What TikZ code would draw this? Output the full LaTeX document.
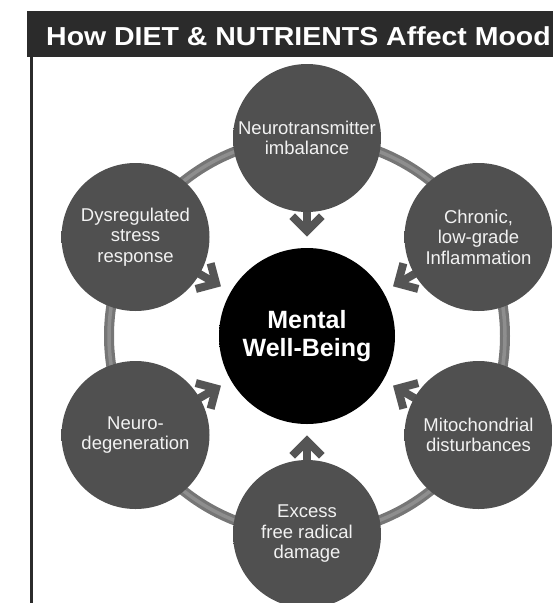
\documentclass[tikz,border=0pt]{standalone}
\usepackage{fontspec}
\usepackage{graphicx}
\setmainfont{Liberation Sans}
\usetikzlibrary{calc,backgrounds}
\definecolor{titlebg}{HTML}{2B2B2B}
\definecolor{og}{HTML}{505050}
\definecolor{ogl}{HTML}{787878}
\definecolor{ogd}{HTML}{3A3A3A}
\definecolor{cgl}{HTML}{6A6A6A}
\definecolor{cgd}{HTML}{2A2A2A}
\definecolor{ringgray}{HTML}{767676}
\definecolor{ringlight}{HTML}{8E8E8E}
\definecolor{arrowgray}{HTML}{555555}
\definecolor{txtwhite}{HTML}{F2F2F2}
\pgfdeclareradialshading{outerball}{\pgfpoint{0bp}{0bp}}{color(0bp)=(og); color(40bp)=(og); color(46.5bp)=(ogl); color(50bp)=(ogd)}
\pgfdeclareradialshading{centerball}{\pgfpoint{0bp}{0bp}}{color(0bp)=(black); color(42bp)=(black); color(47.5bp)=(cgl); color(50bp)=(cgd)}
\begin{document}
\begin{tikzpicture}[x=1pt,y=-1pt,
  outer/.style={circle, minimum size=148pt, inner sep=0pt, shading=outerball, text=txtwhite, font=\fontsize{18.5}{20.5}\selectfont, align=center},
  hub/.style={circle, minimum size=176pt, inner sep=0pt, shading=centerball, text=white, font=\bfseries\fontsize{25}{28}\selectfont, align=center},
  arr/.style={draw=arrowgray, line width=8pt, line join=miter},
  ringouter/.style={draw=ringgray, line width=10pt},
  ringinner/.style={draw=ringlight, line width=3.5pt},
  titlestyle/.style={anchor=base west, text=white, font=\bfseries\fontsize{26}{30}\selectfont, inner sep=0pt}
]
\useasboundingbox (0,0) rectangle (553,603);
% frame
\fill[titlebg] (27,11) rectangle (560,57);
\fill[titlebg] (29.5,57) rectangle (33,603);
\node[titlestyle] (title) at (46,45) {\scalebox{1.095}[1]{How DIET \& NUTRIENTS Affect Mood}};
% nodes
\node[hub] (c) at (307,336) {Mental\\Well-Being};
\node[outer] (n1) at (307,138) {Neurotransmitter\\imbalance};
\node[outer] (n2) at (478.5,237) {Chronic,\\low-grade\\Inflammation};
\node[outer] (n3) at (478.5,435) {Mitochondrial\\disturbances};
\node[outer] (n4) at (307,534) {Excess\\free radical\\damage};
\node[outer] (n5) at (135.5,435) {Neuro-\\degeneration};
\node[outer] (n6) at (135.5,237) {Dysregulated\\stress\\response};
\begin{pgfonlayer}{background}
  \draw[ringouter] (c.center) circle (198);
  \draw[ringinner] (c.center) circle (198);
  \foreach \n in {n1,n2,n3,n4,n5,n6} {
    \coordinate (v) at ($(c)!105pt!(\n)$);
    \draw[arr] ($(c)!128pt!(\n)$) -- (v);
    \draw[arr] ($(v)!21pt!45:(\n)$) -- (v) -- ($(v)!21pt!-45:(\n)$);
  }
\end{pgfonlayer}
\end{tikzpicture}
\end{document}
